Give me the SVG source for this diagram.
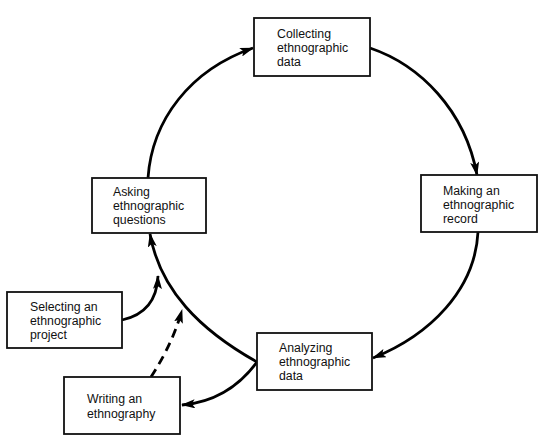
<svg xmlns="http://www.w3.org/2000/svg" width="552" height="443" viewBox="0 0 552 443">
<defs>
<style>
.box{fill:#fff;stroke:#111;stroke-width:1.8}
.lbl{font-family:"Liberation Sans",Arial,sans-serif;font-size:12.3px;fill:#111}
.con{fill:none;stroke:#000;stroke-width:2.8}
.dash{stroke-dasharray:9,6}
</style>
<marker id="ah" viewBox="0 0 14 9" refX="13" refY="4.5" markerWidth="14" markerHeight="9" markerUnits="userSpaceOnUse" orient="auto">
<path d="M0,0 L14,4.5 L0,9 L3,4.5 Z" fill="#000"/>
</marker>
</defs>
<rect width="552" height="443" fill="#fff"/>
<g id="connectors">
<path class="con" d="M148,178 C152,120 190,70 253,48" marker-end="url(#ah)"/>
<path class="con" d="M370,48 C420,65 465,110 477,175" marker-end="url(#ah)"/>
<path class="con" d="M478,232 C475,290 430,335 373,358" marker-end="url(#ah)"/>
<path class="con" d="M257,362 C200,330 160,290 150,234" marker-end="url(#ah)"/>
<path class="con" d="M257,362 C240,385 215,402 182,405" marker-end="url(#ah)"/>
<path class="con" d="M122,320 C145,315 157,300 158,276" marker-end="url(#ah)"/>
<path class="con dash" d="M151,377 C165,355 175,335 182,310" marker-end="url(#ah)"/>
</g>
<g id="collecting">
<rect class="box" x="254" y="18" width="116" height="58"/>
<text class="lbl" x="277" y="37.5">Collecting</text>
<text class="lbl" x="277" y="52">ethnographic</text>
<text class="lbl" x="277" y="66">data</text>
</g>
<g id="making">
<rect class="box" x="421" y="175" width="116" height="57"/>
<text class="lbl" x="443" y="194.5">Making an</text>
<text class="lbl" x="443" y="208.5">ethnographic</text>
<text class="lbl" x="443" y="222.5">record</text>
</g>
<g id="analyzing">
<rect class="box" x="257" y="333" width="115" height="57"/>
<text class="lbl" x="279" y="352">Analyzing</text>
<text class="lbl" x="279" y="366">ethnographic</text>
<text class="lbl" x="279" y="380">data</text>
</g>
<g id="asking">
<rect class="box" x="92" y="178" width="114" height="55"/>
<text class="lbl" x="113" y="196">Asking</text>
<text class="lbl" x="113" y="210">ethnographic</text>
<text class="lbl" x="113" y="224">questions</text>
</g>
<g id="selecting">
<rect class="box" x="7" y="292" width="115" height="56"/>
<text class="lbl" x="30" y="311">Selecting an</text>
<text class="lbl" x="30" y="325">ethnographic</text>
<text class="lbl" x="30" y="339">project</text>
</g>
<g id="writing">
<rect class="box" x="64" y="377" width="116" height="57"/>
<text class="lbl" x="87" y="403">Writing an</text>
<text class="lbl" x="87" y="418">ethnography</text>
</g>
</svg>
